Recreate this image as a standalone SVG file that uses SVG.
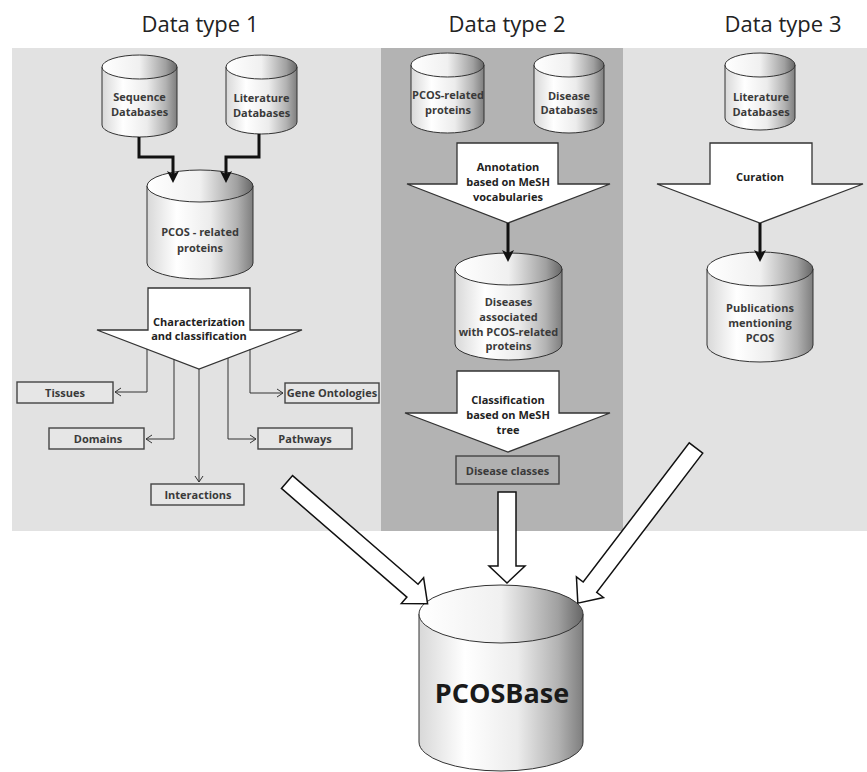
<svg xmlns="http://www.w3.org/2000/svg" width="867" height="772" viewBox="0 0 867 772">
  <style>
    .title { font-family: "Open Sans", "Noto Sans", "Liberation Sans", sans-serif; font-size: 22px; fill: #222; text-anchor: middle; }
    .lbl { font-family: "Open Sans", "Noto Sans", "Liberation Sans", sans-serif; font-size: 11px; font-weight: bold; fill: #3a3a3a; text-anchor: middle; }
    .dark { fill: #222; }
    .big { font-family: "Open Sans", "Noto Sans", "Liberation Sans", sans-serif; font-size: 27px; font-weight: bold; fill: #1a1a1a; text-anchor: middle; }
    .body { fill: url(#gBody); stroke: #333; stroke-width: 1; }
    .lid { fill: url(#gTop); stroke: #333; stroke-width: 1; }
    .block { fill: #fff; stroke: #333; stroke-width: 1.3; }
    .hollow { fill: #fff; stroke: #111; stroke-width: 1.5; }
    .box { fill: #e6e6e6; stroke: #444; stroke-width: 1.4; }
    .thin { fill: none; stroke: #333; stroke-width: 1; marker-end: url(#open); }
    .thick { fill: none; stroke: #111; stroke-width: 3; marker-end: url(#solid); }
  </style>
  <defs>
    <linearGradient id="gBody" x1="0" y1="0" x2="1" y2="0">
      <stop offset="0" stop-color="#d8d8d8"/>
      <stop offset="0.28" stop-color="#ffffff"/>
      <stop offset="0.6" stop-color="#ececec"/>
      <stop offset="0.85" stop-color="#b2b2b2"/>
      <stop offset="1" stop-color="#7e7e7e"/>
    </linearGradient>
    <linearGradient id="gTop" x1="0" y1="0" x2="1" y2="0">
      <stop offset="0" stop-color="#ffffff"/>
      <stop offset="0.5" stop-color="#f0f0f0"/>
      <stop offset="0.85" stop-color="#a0a0a0"/>
      <stop offset="1" stop-color="#666666"/>
    </linearGradient>
    <marker id="open" markerUnits="userSpaceOnUse" markerWidth="10" markerHeight="10" viewBox="-1 -5 9 10" refX="6" refY="0" orient="auto">
      <path d="M0,-4 L6,0 L0,4" fill="none" stroke="#333" stroke-width="1"/>
    </marker>
    <marker id="solid" markerUnits="userSpaceOnUse" markerWidth="12" markerHeight="12" viewBox="0 0 12 12" refX="8" refY="6" orient="auto">
      <path d="M0,0 L12,6 L0,12 L3,6 Z" fill="#111"/>
    </marker>
  </defs>

  <rect width="867" height="772" fill="#fff"/>

  <!-- panels -->
  <g id="panels">
    <rect x="12" y="48" width="369" height="483" fill="#e2e2e2"/>
    <rect x="381" y="48" width="242" height="483" fill="#b3b3b3"/>
    <rect x="623" y="48" width="244" height="483" fill="#e2e2e2"/>
  </g>

  <g id="titles">
    <text class="title" x="200" y="32">Data type 1</text>
    <text class="title" x="507" y="32">Data type 2</text>
    <text class="title" x="783" y="32">Data type 3</text>
  </g>

  <!-- data type 1 -->
  <g id="seqdb">
    <path class="body" d="M102,67 V125 A37.5,12 0 0 0 177,125 V67 Z"/>
    <ellipse class="lid" cx="139.5" cy="67" rx="37.5" ry="12"/>
    <text class="lbl" x="139.5" y="101">Sequence</text>
    <text class="lbl" x="139.5" y="116">Databases</text>
  </g>
  <g id="litdb1">
    <path class="body" d="M226,67 V122 A35.5,12 0 0 0 297,122 V67 Z"/>
    <ellipse class="lid" cx="261.5" cy="67" rx="35.5" ry="12"/>
    <text class="lbl" x="261.5" y="102">Literature</text>
    <text class="lbl" x="261.5" y="117">Databases</text>
  </g>
  <g id="pcos1">
    <path class="body" d="M147,186 V263 A53,16 0 0 0 253,263 V186 Z"/>
    <ellipse class="lid" cx="200" cy="186" rx="53" ry="16"/>
    <text class="lbl" x="200" y="236">PCOS - related</text>
    <text class="lbl" x="200" y="252">proteins</text>
  </g>
  <g id="charact">
    <path class="block" d="M148,288 H250 V330 H302 L199,369 L97,330 H148 Z"/>
    <text class="lbl dark" x="199" y="326">Characterization</text>
    <text class="lbl dark" x="199" y="340">and classification</text>
  </g>
  <g id="tissues">
    <rect class="box" x="17" y="382" width="96" height="21"/>
    <text class="lbl" x="65" y="396.5">Tissues</text>
  </g>
  <g id="geneont">
    <rect class="box" x="285" y="383" width="94" height="20"/>
    <text class="lbl" x="332" y="397">Gene Ontologies</text>
  </g>
  <g id="domains">
    <rect class="box" x="49" y="428" width="95" height="21"/>
    <text class="lbl" x="98" y="442.5">Domains</text>
  </g>
  <g id="pathways">
    <rect class="box" x="258" y="428" width="94" height="21"/>
    <text class="lbl" x="305" y="442.5">Pathways</text>
  </g>
  <g id="interactions">
    <rect class="box" x="151" y="484" width="93" height="21"/>
    <text class="lbl" x="198" y="498.5">Interactions</text>
  </g>

  <!-- data type 2 -->
  <g id="pcos2">
    <path class="body" d="M411,65 V121 A36.5,12 0 0 0 484,121 V65 Z"/>
    <ellipse class="lid" cx="447.5" cy="65" rx="36.5" ry="12"/>
    <text class="lbl" x="448" y="99">PCOS-related</text>
    <text class="lbl" x="448" y="114">proteins</text>
  </g>
  <g id="diseasedb">
    <path class="body" d="M534,65 V121 A35,12 0 0 0 604,121 V65 Z"/>
    <ellipse class="lid" cx="569" cy="65" rx="35" ry="12"/>
    <text class="lbl" x="569" y="100">Disease</text>
    <text class="lbl" x="569" y="114">Databases</text>
  </g>
  <g id="annotation">
    <path class="block" d="M457,143 H558 V184 H610 L508,223 L407,184 H457 Z"/>
    <text class="lbl dark" x="508" y="171">Annotation</text>
    <text class="lbl dark" x="508" y="186">based on MeSH</text>
    <text class="lbl dark" x="508" y="201">vocabularies</text>
  </g>
  <g id="diseases">
    <path class="body" d="M455,269 V344 A53.5,16 0 0 0 562,344 V269 Z"/>
    <ellipse class="lid" cx="508.5" cy="269" rx="53.5" ry="16"/>
    <text class="lbl" x="508.5" y="306">Diseases</text>
    <text class="lbl" x="508.5" y="320.5">associated</text>
    <text class="lbl" x="508.5" y="336">with PCOS-related</text>
    <text class="lbl" x="508.5" y="350">proteins</text>
  </g>
  <g id="classification">
    <path class="block" d="M457,371 H559 V413 H610 L508,452 L405,413 H457 Z"/>
    <text class="lbl dark" x="508" y="404">Classification</text>
    <text class="lbl dark" x="508" y="419">based on MeSH</text>
    <text class="lbl dark" x="508" y="434">tree</text>
  </g>
  <g id="diseaseclasses">
    <rect x="456" y="456" width="103" height="28" fill="#b0b0b0" stroke="#444" stroke-width="1.4"/>
    <text class="lbl" x="507.5" y="474.5">Disease classes</text>
  </g>

  <!-- data type 3 -->
  <g id="litdb3">
    <path class="body" d="M725,65 V118 A35,12 0 0 0 795,118 V65 Z"/>
    <ellipse class="lid" cx="760" cy="65" rx="35" ry="12"/>
    <text class="lbl" x="761" y="101">Literature</text>
    <text class="lbl" x="761" y="116">Databases</text>
  </g>
  <g id="curation">
    <path class="block" d="M710,143 H812 V184 H863 L760,223 L657,184 H710 Z"/>
    <text class="lbl dark" x="760" y="181">Curation</text>
  </g>
  <g id="publications">
    <path class="body" d="M707,269 V345 A53,17 0 0 0 813,345 V269 Z"/>
    <ellipse class="lid" cx="760" cy="269" rx="53" ry="17"/>
    <text class="lbl" x="760" y="312">Publications</text>
    <text class="lbl" x="760" y="327">mentioning</text>
    <text class="lbl" x="760" y="342">PCOS</text>
  </g>

  <!-- central store -->
  <g id="pcosbase">
    <path class="body" d="M419,614 V742 A82,29 0 0 0 583,742 V614 Z"/>
    <ellipse class="lid" cx="501" cy="614" rx="82" ry="29"/>
    <text class="big" x="502" y="703">PCOSBase</text>
  </g>

  <!-- connectors, drawn over the nodes so heads sit on the lids -->
  <g id="connectors">
    <path class="thick" d="M139,137 V157 H173 V179"/>
    <path class="thick" d="M259,134 V157 H226 V179"/>
    <path class="thick" d="M508,223 V258"/>
    <path class="thick" d="M760,223 V258"/>
    <path class="thin" d="M147,349 V392 H115"/>
    <path class="thin" d="M174,359 V439 H146"/>
    <path class="thin" d="M199,369 V482"/>
    <path class="thin" d="M228,358 V439 H256"/>
    <path class="thin" d="M250,349 V393 H283"/>
    <path class="hollow" d="M498,492 H516 V566 H525 L507,583 L489,566 H498 Z"/>
    <path class="hollow" transform="translate(287,482) rotate(40.9)" d="M0,-8.5 H166 V-17 L186,0 L166,17 V8.5 H0 Z"/>
    <path class="hollow" transform="translate(696,448) rotate(127.3)" d="M0,-8.5 H175 V-17 L195,0 L175,17 V8.5 H0 Z"/>
  </g>
</svg>
